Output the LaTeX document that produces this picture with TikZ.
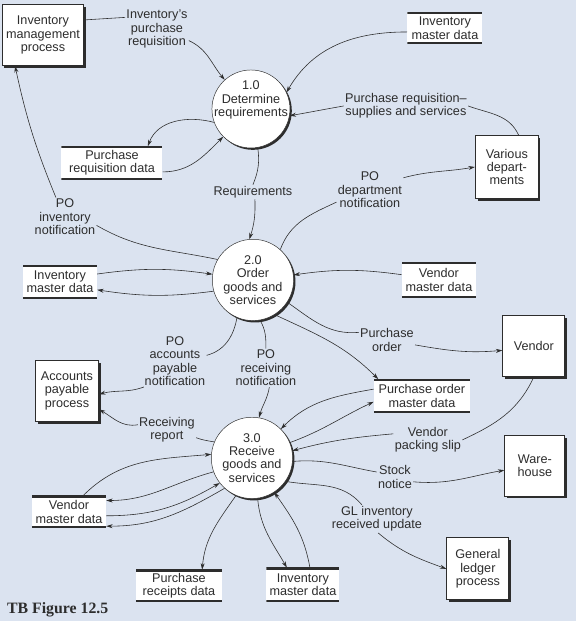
\documentclass[tikz,border=0pt]{standalone}
\usepackage{fontspec}
\setsansfont{Liberation Sans}
\newfontfamily\figfont{Liberation Serif}
\usetikzlibrary{arrows.meta,shadows}
\definecolor{bgblue}{RGB}{219,227,240}
\definecolor{ink}{RGB}{45,45,45}

\begin{document}
\begin{tikzpicture}[x=0.03cm,y=0.03cm,
    >={Stealth[length=5.5pt,width=3.4pt]},
    every node/.style={font=\sffamily\fontsize{10.8}{11.5}\selectfont,text=ink,align=center},
    proc/.style={circle,draw=ink,fill=white,inner sep=-9pt,
        general shadow={fill=ink,shadow xshift=1.6pt,shadow yshift=-1.6pt}},
    ext/.style={draw=ink,line width=0.9pt,fill=white,
        general shadow={fill=ink,shadow xshift=1.8pt,shadow yshift=-1.8pt}},
    store/.style={fill=white,inner sep=1pt,
        path picture={\draw[ink,line width=3pt]
            (path picture bounding box.north west) -- (path picture bounding box.north east)
            (path picture bounding box.south west) -- (path picture bounding box.south east);}},
    flow/.style={inner sep=1pt}]

\fill[bgblue] (0,0) rectangle (576,621);

% processes
\node[proc,minimum size=2.34cm] (p1) at (251,512) {1.0\\Determine\\requirements\\[6pt]\mbox{}};
\node[proc,minimum size=2.44cm] (p2) at (253,341) {2.0\\Order\\goods and\\services};
\node[proc,minimum size=2.44cm] (p3) at (252,163) {3.0\\Receive\\goods and\\services};

% external entities
\begin{scope}[every node/.append style={ext}]
    \node[minimum width=2.31cm,minimum height=1.83cm] (invm) at (43,586) {Inventory\\management\\process};
    \node[minimum width=1.89cm,minimum height=1.89cm] (vdep) at (507,454) {Various\\depart-\\ments};
    \node[minimum width=1.86cm,minimum height=1.83cm] (vend) at (534,275) {Vendor};
    \node[minimum width=1.89cm,minimum height=1.83cm] (ap) at (67,230) {Accounts\\payable\\process};
    \node[minimum width=1.80cm,minimum height=1.83cm] (wh) at (535,155) {Ware-\\house};
    \node[minimum width=1.86cm,minimum height=1.86cm] (gl) at (478,52) {General\\ledger\\process};
\end{scope}

% data stores
\begin{scope}[every node/.append style={store}]
    \node[minimum width=2.25cm,minimum height=0.93cm] (ims1) at (445,593) {Inventory\\master data};
    \node[minimum width=3.03cm,minimum height=0.99cm] (prd) at (112,458) {Purchase\\requisition data};
    \node[minimum width=2.22cm,minimum height=0.99cm] (ims2) at (60,339) {Inventory\\master data};
    \node[minimum width=2.22cm,minimum height=1.05cm] (vms1) at (439,341) {Vendor\\master data};
    \node[minimum width=2.88cm,minimum height=0.99cm] (pomd) at (422,225) {Purchase order\\master data};
    \node[minimum width=2.22cm,minimum height=0.96cm] (vms2) at (69,109) {Vendor\\master data};
    \node[minimum width=2.58cm,minimum height=0.96cm] (prcpt) at (179,35) {Purchase\\receipts data};
    \node[minimum width=2.19cm,minimum height=1.02cm] (ims3) at (303,36) {Inventory\\master data};
\end{scope}

% flow labels
\begin{scope}[every node/.append style={flow}]
    \node (lbInvReq) at (157,592) {Inventory's\\purchase\\requisition};
    \node (lbPrSup) at (406,515) {Purchase requisition--\\supplies and services};
    \node (lbPoDept) at (370,431) {PO\\department\\notification};
    \node (lbReq) at (253,429) {Requirements};
    \node (lbPoInv) at (65,404) {PO\\inventory\\notification};
    \node (lbPoAp) at (175,260) {PO\\accounts\\payable\\notification};
    \node (lbPoRcv) at (266,253) {PO\\receiving\\notification};
    \node (lbRcvRep) at (167,191) {Receiving\\report};
    \node (lbPurOrd) at (387,281) {Purchase\\order};
    \node (lbPack) at (428,181) {Vendor\\packing slip};
    \node (lbStock) at (395,144) {Stock\\notice};
    \node (lbGL) at (377,102) {GL inventory\\received update};
\end{scope}

\node[font=\figfont\bfseries\fontsize{13.5}{14}\selectfont,anchor=west] (title) at (3,11) {TB Figure 12.5};

\begin{scope}[ink,line width=0.5pt]
% 1.0
\draw (invm.20) -- (lbInvReq.160);
\draw[->] (lbInvReq.-20) to[out=-25,in=130] (p1.132);
\draw[->] (ims1.186) to[out=180,in=60] (p1.25);
\draw (vdep.70) to[out=115,in=-20] (lbPrSup.east);
\draw[->] (lbPrSup.west) to[out=190,in=10] (p1.-10);
\draw[->] (p1.200) to[out=165,in=70] (prd.25);
\draw[->] (prd.-10) to[out=0,in=225] (p1.225);
\draw (p1.-80) to[bend left=15] (lbReq.north);
\draw[->] (lbReq.-75) to[bend left=10] (p2.95);

% 2.0
\draw (p2.150) to[out=168,in=-30] (lbPoInv.-15);
\draw[->] (lbPoInv.115) to[bend left=5] (invm.-132);
\draw (p2.48) to[out=70,in=205] (lbPoDept.200);
\draw[->] (lbPoDept.20) to[out=15,in=190] (vdep.west);
\draw[->] (ims2.12) to[bend left=8] (p2.172);
\draw[->] (p2.196) to[bend left=8] (ims2.-12);
\draw[->] (vms1.172) to[bend right=8] (p2.7);
\draw (p2.-33) to[out=-35,in=185] (lbPurOrd.165);
\draw[->] (lbPurOrd.-10) to[out=-10,in=185] (vend.188);
\draw[->] (p2.-58) to[out=-25,in=135] (pomd.159);
\draw (p2.-113) to[out=-100,in=15] (lbPoAp.10);
\draw[->] (lbPoAp.-140) to[out=200,in=15] (ap.-6);
\draw (p2.-80) to[out=-60,in=90] (lbPoRcv.north);
\draw[->] (lbPoRcv.-80) to[out=-100,in=75] (p3.80);

% 3.0
\draw (p3.157) to[out=170,in=-20] (lbRcvRep.-15);
\draw[->] (lbRcvRep.170) to[out=190,in=-30] (ap.-30);
\draw[->] (pomd.172) to[out=190,in=45] (p3.45);
\draw[->] (p3.22) to[out=20,in=205] (pomd.187);
\draw (vend.south) to[out=-115,in=25] (lbPack.east);
\draw[->] (lbPack.170) to[out=185,in=15] (p3.10);
\draw (p3.-5) to[out=5,in=170] (lbStock.165);
\draw[->] (lbStock.-15) to[out=-5,in=190] (wh.188);
\draw (p3.-35) to[out=-10,in=130] (lbGL.137);
\draw[->] (lbGL.-85) to[out=-40,in=160] (gl.west);
\draw[->] (vms2.49) to[out=45,in=185] (p3.175);
\draw[->] (p3.200) to[out=195,in=0] (vms2.17);
\draw[->] (vms2.-6) to[out=0,in=210] (p3.218);
\draw[->] (p3.228) to[out=210,in=0] (vms2.-21);
\draw[->] (p3.-113) to[out=-125,in=85] (prcpt.35);
\draw[->] (p3.-82) to[out=-85,in=120] (ims3.133);
\draw[->] (ims3.68) to[out=100,in=-55] (p3.-57);
\end{scope}

\end{tikzpicture}
\end{document}
